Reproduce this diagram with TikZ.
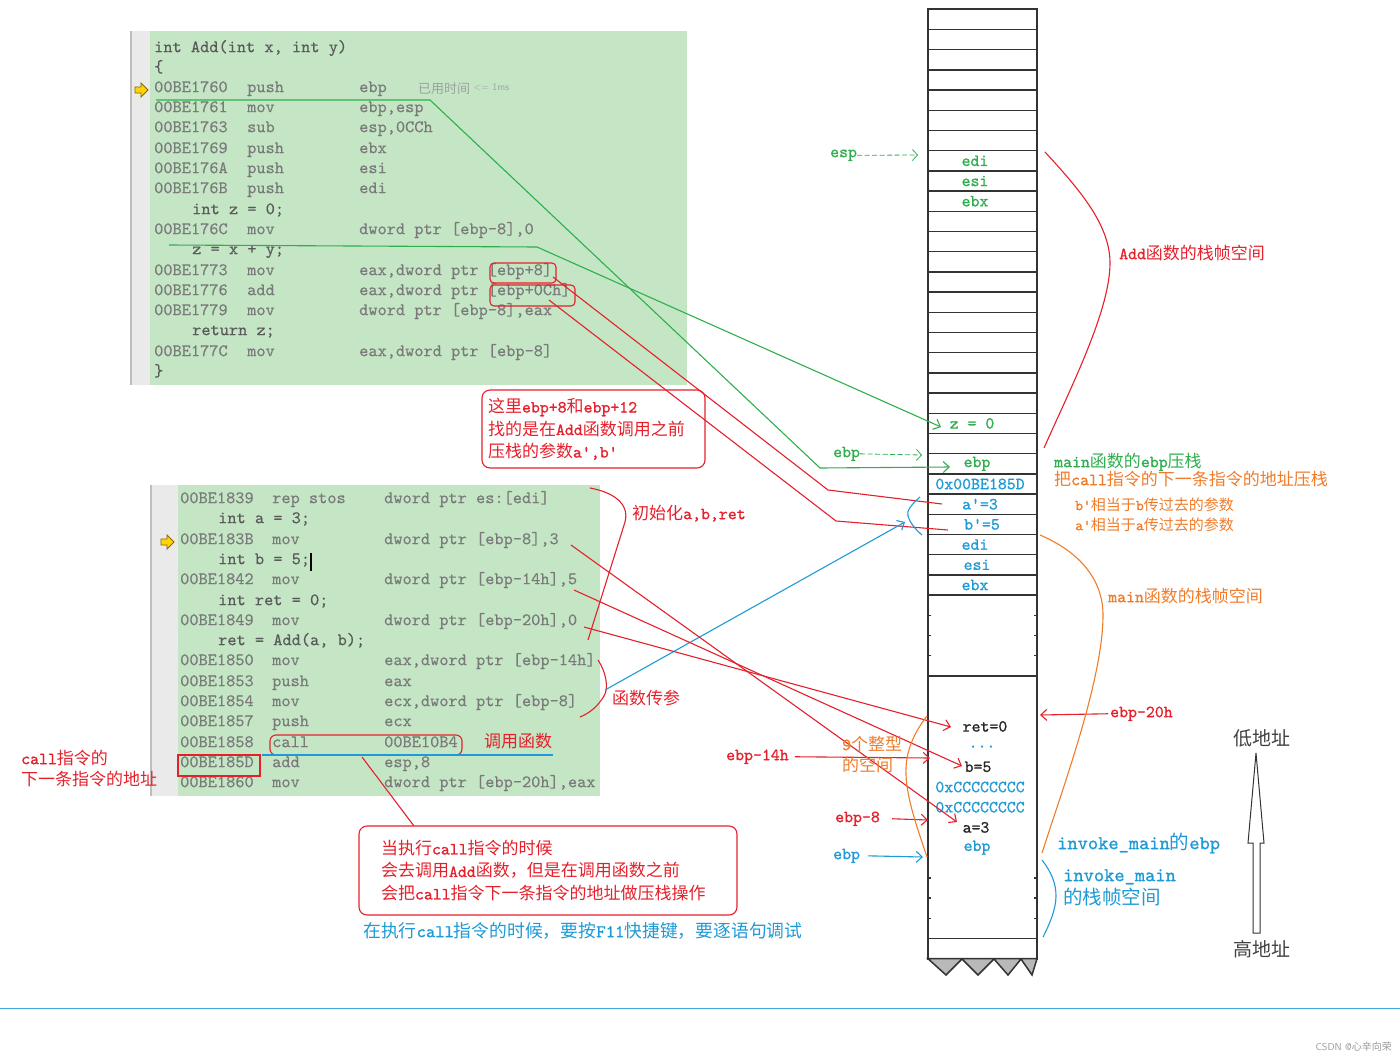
\documentclass[tikz,border=0pt]{standalone}
\usepackage{fontspec}
\setmonofont[FakeBold=1.1]{lmmono10-regular.otf}
\newfontfamily\codemono[FakeBold=0.4]{lmmono10-regular.otf}
\newfontfamily\cjkfont{Noto Sans CJK SC}
\usetikzlibrary{arrows.meta}

% CJK-Zeichen automatisch in Noto Sans CJK setzen
\XeTeXinterchartokenstate=1
\newXeTeXintercharclass\cjkclass
\count255="3000
\loop\XeTeXcharclass\count255=\cjkclass\advance\count255 by 1 \ifnum\count255<"A000\repeat
\count255="FF00
\loop\XeTeXcharclass\count255=\cjkclass\advance\count255 by 1 \ifnum\count255<"FFF0\repeat
\XeTeXinterchartoks 0 \cjkclass={\cjkfont}
\XeTeXinterchartoks 4095 \cjkclass={\cjkfont}
\XeTeXinterchartoks \cjkclass 0={\ttfamily}

\definecolor{codebg}{HTML}{C4E6C5}
\definecolor{gutterbg}{HTML}{EAEAEA}
\definecolor{gutterln}{HTML}{BDBDBD}
\definecolor{codegray}{HTML}{7A7A7A}
\definecolor{srcgray}{HTML}{5A5A5A}
\definecolor{timegray}{HTML}{A0A0A0}
\definecolor{annored}{HTML}{E5202B}
\definecolor{annogreen}{HTML}{2FAE4E}
\definecolor{annoblue}{HTML}{1E9AD6}
\definecolor{annoorange}{HTML}{F07C2A}
\definecolor{markyellow}{HTML}{FFD400}
\definecolor{markedge}{HTML}{8A6A00}

\newcommand\codefont{\codemono\fontsize{17.5}{20}\selectfont}
\newcommand\annofont{\ttfamily\fontsize{17}{20}\selectfont}
\newcommand\notefont{\ttfamily\fontsize{17}{22.5}\selectfont}
\newcommand\smallanno{\ttfamily\fontsize{15}{18}\selectfont}
\newcommand\biganno{\ttfamily\fontsize{19.5}{23}\selectfont}

\tikzset{
  asm/.style={font=\codefont, text=codegray, anchor=mid west, inner sep=0pt},
  src/.style={asm, text=srcgray},
  anno/.style={font=\annofont, anchor=mid west, inner sep=0pt},
  cell/.style={font=\annofont, inner sep=0pt},
  redline/.style={draw=annored, line width=1.1pt},
  greenline/.style={draw=annogreen, line width=1.1pt},
  blueline/.style={draw=annoblue, line width=1.1pt},
  orangeline/.style={draw=annoorange, line width=1.1pt},
  tip/.style={-{Straight Barb[length=6pt,width=11pt]}},
  redbox/.style={draw=annored, line width=1.1pt, rounded corners=4pt, inner sep=0pt},
  notebox/.style={draw=annored, line width=1.1pt, rounded corners=8pt, align=left,
    text=annored, font=\notefont},
  marker/.style={fill=markyellow, draw=markedge, line width=0.8pt},
  rowline/.style={draw=black!80, line width=1.5pt}
}

\begin{document}
\begin{tikzpicture}[x=1pt,y=-1pt]
  \useasboundingbox (0,0) rectangle (1400,1060);

  % Codefenster Add
  \fill[gutterbg] (130,31) rectangle (150,385);
  \draw[gutterln, line width=1.5pt] (131,31) -- (131,385);
  \fill[codebg] (150,31) rectangle (687,385);
  \draw[marker, shift={(141,90)}] (-6,-3) -- (0,-3) -- (0,-7) -- (7,0) -- (0,7) -- (0,3) -- (-6,3) -- cycle;

  \node[src] (tSig) at (154,50) {int Add(int x, int y)};
  \node[src] (tOpen) at (154,70) {\{};
  \node[src] (tZ0) at (192,212) {int z = 0;};
  \node[src] (tZxy) at (192,252) {z = x + y;};
  \node[src] (tRet) at (192,333) {return z;};
  \node[src] (tClose) at (154,374) {\}};
  \foreach \y/\ad/\mn/\op in {90/00BE1760/push/ebp, 110/00BE1761/mov/{ebp,esp},
      130/00BE1763/sub/{esp,0CCh}, 151/00BE1769/push/ebx, 171/00BE176A/push/esi,
      191/00BE176B/push/edi, 232/00BE176C/mov/{dword ptr [ebp-8],0},
      273/00BE1773/mov/{eax,dword ptr [ebp+8]}, 293/00BE1776/add/{eax,dword ptr [ebp+0Ch]},
      313/00BE1779/mov/{dword ptr [ebp-8],eax}, 354/00BE177C/mov/{eax,dword ptr [ebp-8]}}
  {
    \node[asm] (ta\y) at (154,\y) {\ad};
    \node[asm] (tm\y) at (247,\y) {\mn};
    \node[asm] (to\y) at (359,\y) {\op};
  }
  \node[anno, font=\cjkfont\fontsize{13}{15}\selectfont, text=timegray] (tTime) at (418,91) {已用时间};
  \node[anno, font=\sffamily\fontsize{10}{12}\selectfont, text=timegray] (tTimeV) at ([xshift=3pt]tTime.east) {<= 1ms};

  % Codefenster main
  \fill[gutterbg] (150,485) rectangle (178,796);
  \draw[gutterln, line width=1.5pt] (151,485) -- (151,796);
  \fill[codebg] (178,485) rectangle (600,796);
  \draw[marker, shift={(167,542)}] (-6,-3) -- (0,-3) -- (0,-7) -- (7,0) -- (0,7) -- (0,3) -- (-6,3) -- cycle;

  \node[src] (mA) at (218,521) {int a = 3;};
  \node[src] (mB) at (218,562) {int b = 5;};
  \node[src] (mRet) at (218,603) {int ret = 0;};
  \node[src] (mCall) at (218,643) {ret = Add(a, b);};
  \draw[black, line width=1.2pt] (311,553) -- (311,571);
  \foreach \y/\ad/\mn/\op in {501/00BE1839/{rep stos}/{dword ptr es:[edi]},
      542/00BE183B/mov/{dword ptr [ebp-8],3}, 582/00BE1842/mov/{dword ptr [ebp-14h],5},
      623/00BE1849/mov/{dword ptr [ebp-20h],0}, 663/00BE1850/mov/{eax,dword ptr [ebp-14h]},
      684/00BE1853/push/eax, 704/00BE1854/mov/{ecx,dword ptr [ebp-8]},
      724/00BE1857/push/ecx, 745/00BE1858/call/00BE10B4, 765/00BE185D/add/{esp,8},
      785/00BE1860/mov/{dword ptr [ebp-20h],eax}}
  {
    \node[asm] (ma\y) at (180,\y) {\ad};
    \node[asm] (mm\y) at (272,\y) {\mn};
    \node[asm] (mo\y) at (384,\y) {\op};
  }

  % Stack
  \draw[draw=black!80, line width=2pt] (928,9.3) rectangle (1037,958.7);
  \foreach \k in {1,...,29,33,...,42,46}
    \draw[rowline] (928,{9.3+20.2*\k}) -- (1037,{9.3+20.2*\k});
  \foreach \k in {30,31,32,43,44,45} {
    \draw[rowline] (928,{9.3+20.2*\k}) -- (931,{9.3+20.2*\k});
    \draw[rowline] (1034,{9.3+20.2*\k}) -- (1037,{9.3+20.2*\k});
  }
  \filldraw[fill=gray!55, draw=black!80, line width=1.5pt] (928,958.7) -- (946,975) -- (962,959)
    -- (978,975) -- (994,959) -- (1008,975) -- (1021,959) -- (1032,975) -- (1037,958.7) -- cycle;

  \node[cell, text=annogreen] (sEdiA) at (975,160.8) {edi};
  \node[cell, text=annogreen] (sEsiA) at (975,181.0) {esi};
  \node[cell, text=annogreen] (sEbxA) at (975,201.2) {ebx};
  \node[cell, text=annogreen] (sZ) at (972,423.4) {z = 0};
  \node[cell, text=annogreen] (sEbpA) at (977,463.8) {ebp};
  \node[cell, text=annoblue] (sRetAd) at (980,484.0) {0x00BE185D};
  \node[cell, text=annoblue] (sAp) at (980,504.2) {a'=3};
  \node[cell, text=annoblue] (sBp) at (982,524.4) {b'=5};
  \node[cell, text=annoblue] (sEdiB) at (975,544.6) {edi};
  \node[cell, text=annoblue] (sEsiB) at (977,564.8) {esi};
  \node[cell, text=annoblue] (sEbxB) at (975,585.0) {ebx};
  \node[cell, text=black!85] (sRet) at (985,726.4) {ret=0};
  \node[cell, text=annoblue] (sDots) at (982,746.6) {...};
  \node[cell, text=black!85] (sB) at (978,766.8) {b=5};
  \node[cell, text=annoblue] (sCcA) at (980,787.0) {0xCCCCCCCC};
  \node[cell, text=annoblue] (sCcB) at (980,807.2) {0xCCCCCCCC};
  \node[cell, text=black!85] (sA) at (976,827.4) {a=3};
  \node[cell, text=annoblue] (sEbpB) at (977,847.6) {ebp};

  % esp / ebp von Add
  \node[anno, text=annogreen] (espL) at (830,155) {esp};
  \coordinate (espT) at (918,155);
  \draw[greenline, line width=0.8pt, dash pattern=on 5pt off 2.5pt, -{Straight Barb[length=5pt,width=11pt]}] (espL.east) -- (espT);
  \node[anno, text=annogreen] (ebpL) at (833,455) {ebp};
  \coordinate (ebpT) at (922,455);
  \draw[greenline, line width=0.8pt, dash pattern=on 5pt off 2.5pt, -{Straight Barb[length=5pt,width=11pt]}] (ebpL.east) -- (ebpT);

  % gruene Verbindungen
  \coordinate (gA) at (156,100);
  \coordinate (gB) at (430,100);
  \coordinate (gC) at (820,468);
  \coordinate (gD) at (950,467);
  \draw[greenline, tip] (gA) -- (gB) -- (gC) -- (gD);
  \coordinate (gE) at (169,245);
  \coordinate (gF) at (537,247);
  \coordinate (gG) at (941,427);
  \draw[greenline, tip] (gE) -- (gF) -- (gG);

  % Parameter ebp+8 / ebp+0Ch
  \node[redbox, minimum width=66pt, minimum height=20pt] (bxA) at (523,273) {};
  \node[redbox, minimum width=85pt, minimum height=21pt] (bxB) at (532.5,295.5) {};
  \coordinate (rA1) at (553,277);
  \coordinate (rA2) at (828,490);
  \coordinate (rA3) at (942,504);
  \draw[redline] (rA1) -- (rA2) -- (rA3);
  \coordinate (rB1) at (549,300);
  \coordinate (rB2) at (836,521);
  \coordinate (rB3) at (948,530);
  \draw[redline] (rB1) -- (rB2) -- (rB3);
  \node[notebox, text width=211pt, inner xsep=6pt, minimum height=78pt] (noteA) at (593.5,429)
    {这里ebp+8和ebp+12\\找的是在Add函数调用之前\\压栈的参数a',b'};

  % main: Initialisierung und Parameter
  \coordinate (kA1) at (590,488);
  \coordinate (kA2) at (625,522);
  \coordinate (kA3) at (588,640);
  \draw[redline] (kA1) .. controls (612,492) and (630,503) .. (kA2) -- (kA3);
  \node[anno, text=annored] (lInit) at (632,517) {初始化a,b,ret};
  \coordinate (kB1) at (598,660);
  \coordinate (kB2) at (580,717);
  \draw[redline] (kB1) .. controls (606,672) and (609,688) .. (604,696) .. controls (598,706) and (590,713) .. (kB2);
  \node[anno, text=annored] (lArgs) at (612,702) {函数传参};
  \coordinate (bA) at (605,690);
  \coordinate (bB) at (905,522);
  \draw[blueline, tip] (bA) -- (bB);
  \coordinate (bC) at (920,497);
  \coordinate (bD) at (922,535);
  \draw[blueline] (bC) .. controls (912,504) and (906,511) .. (908,516) .. controls (910,523) and (916,530) .. (bD);

  \coordinate (pA) at (571,545);
  \coordinate (pAe) at (957,822);
  \draw[redline, tip] (pA) -- (pAe);
  \coordinate (pB) at (574,590);
  \coordinate (pBe) at (962,766);
  \draw[redline, tip] (pB) -- (pBe);
  \coordinate (pC) at (584,627);
  \coordinate (pCe) at (951,727);
  \draw[redline, tip] (pC) -- (pCe);

  % call
  \node[redbox, rounded corners=6pt, minimum width=192pt, minimum height=20pt] (bxCall) at (366,745) {};
  \node[redbox, rounded corners=0pt, minimum width=82pt, minimum height=21pt] (bxNext) at (219,765.5) {};
  \coordinate (uA) at (262,755);
  \coordinate (uB) at (553,755);
  \draw[blueline] (uA) -- (uB);
  \node[anno, text=annored] (lCall) at (484,745) {调用函数};
  \node[anno, text=annored] (lNextA) at (21,762) {call指令的};
  \node[anno, text=annored] (lNextB) at (21,783) {下一条指令的地址};
  \node[notebox, text width=334pt, inner xsep=22pt, minimum height=89pt] (noteB) at (548,870.5)
    {当执行call指令的时候\\会去调用Add函数，但是在调用函数之前\\会把call指令下一条指令的地址做压栈操作};
  \coordinate (cA) at (362,757);
  \coordinate (cB) at (414,826);
  \draw[redline] (cA) -- (cB);
  \node[anno, font=\ttfamily\fontsize{17.8}{20}\selectfont, text=annoblue] (lF11) at (363,935) {在执行call指令的时候，要按F11快捷键，要逐语句调试};

  % ebp-Offsets
  \node[anno, text=annored] (l14) at (726,758) {ebp-14h};
  \coordinate (l14t) at (930,758);
  \draw[redline, tip] ([xshift=6pt]l14.east) -- (l14t);
  \node[anno, text=annored] (l8) at (835,820) {ebp-8};
  \coordinate (l8t) at (928,820);
  \draw[redline, tip] ([xshift=12pt]l8.east) -- (l8t);
  \node[anno, text=annoblue] (lEbp) at (833,857) {ebp};
  \coordinate (lEbpt) at (923,857);
  \draw[blueline, tip] ([xshift=8pt]lEbp.east) -- (lEbpt);
  \node[anno, text=annored] (l20) at (1110,715) {ebp-20h};
  \coordinate (l20t) at (1040,715);
  \draw[redline, tip] ([xshift=-2pt]l20.west) -- (l20t);
  \node[anno, text=annoorange] (lNineA) at (842,748) {9个整型};
  \node[anno, text=annoorange] (lNineB) at (842,769) {的空间};
  \coordinate (oA) at (927,716);
  \coordinate (oB) at (927,857);
  \draw[orangeline] (oA) .. controls (912,735) and (905,755) .. (906,775) .. controls (907,800) and (918,830) .. (oB);

  % Klammern rechts
  \coordinate (fA1) at (1045,152);
  \coordinate (fA2) at (1044,448);
  \draw[redline] (fA1) .. controls (1080,190) and (1110,225) .. (1110,263) .. controls (1110,310) and (1072,385) .. (fA2);
  \node[anno, text=annored] (lAddF) at (1119,257) {Add函数的栈帧空间};
  \node[anno, text=annogreen] (lMainEbp) at (1054,465) {main函数的ebp压栈};
  \node[anno, text=annoorange] (lPushRet) at (1054,483) {把call指令的下一条指令的地址压栈};
  \node[anno, font=\smallanno, text=annoorange] (lBp) at (1075,508) {b'相当于b传过去的参数};
  \node[anno, font=\smallanno, text=annoorange] (lAp) at (1075,528) {a'相当于a传过去的参数};
  \coordinate (fB1) at (1040,535);
  \coordinate (fB2) at (1042,853);
  \draw[orangeline] (fB1) .. controls (1080,552) and (1103,580) .. (1103,615) .. controls (1103,680) and (1062,790) .. (fB2);
  \node[anno, text=annoorange] (lMainF) at (1108,600) {main函数的栈帧空间};
  \node[anno, font=\biganno, text=annoblue] (lInvEbp) at (1057,847) {invoke\_main的ebp};
  \node[anno, font=\biganno, text=annoblue] (lInvA) at (1063,879) {invoke\_main};
  \node[anno, font=\biganno, text=annoblue] (lInvB) at (1063,902) {的栈帧空间};
  \coordinate (fC1) at (1042,860);
  \coordinate (fC2) at (1043,937);
  \draw[blueline] (fC1) .. controls (1052,873) and (1056,884) .. (1056,896) .. controls (1056,910) and (1049,925) .. (fC2);

  % Adressrichtung
  \draw[black!80, fill=white, line width=1pt] (1253,933) -- (1253,843) -- (1248,843) -- (1256,753)
    -- (1264,843) -- (1260,843) -- (1260,933) -- cycle;
  \node[font=\cjkfont\fontsize{19}{22}\selectfont, text=black!75, inner sep=0pt] (lLow) at (1262,738) {低地址};
  \node[font=\cjkfont\fontsize{19}{22}\selectfont, text=black!75, inner sep=0pt] (lHigh) at (1262,949) {高地址};

  % Fusszeile
  \draw[annoblue!85, line width=1pt] (0,1008) -- (1400,1008);
  \node[font=\sffamily\fontsize{10}{12}\selectfont, text=gray!80, anchor=mid east, inner sep=0pt] (wm) at (1392,1048) {CSDN @心辛向荣};
\end{tikzpicture}
\end{document}
